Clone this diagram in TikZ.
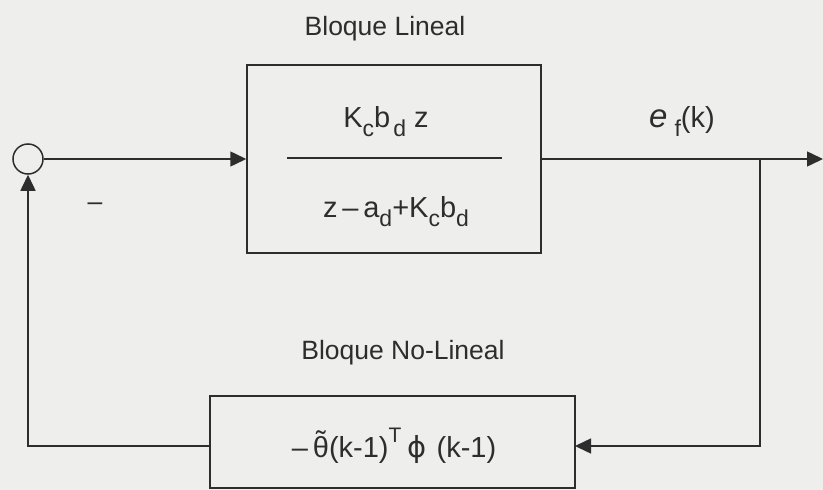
\documentclass[tikz,border=0pt]{standalone}
\usepackage{fontspec}
\setmainfont{Liberation Sans}
\newfontfamily\djv{DejaVu Sans}
\usetikzlibrary{arrows.meta}
\definecolor{ink}{RGB}{45,45,45}
\definecolor{paper}{RGB}{238,238,236}
\newcommand\sbs[1]{\raisebox{-0.32em}{\fontsize{23}{23}\selectfont #1}}
\newcommand\sps[1]{\raisebox{0.5em}{\fontsize{21}{21}\selectfont #1}}
\newcommand\tiltheta{\ooalign{θ\cr\hidewidth\raisebox{0.2em}{˜}\hidewidth\cr}}
\tikzset{
  blk/.style={draw=ink, line width=1.5pt, inner sep=0pt},
  txt/.style={text=ink, inner sep=0pt, font=\fontsize{26.5}{28}\selectfont},
  ftxt/.style={txt, font=\fontsize{29}{30}\selectfont},
  wire/.style={draw=ink, line width=1.5pt},
  arr/.style={wire, -{Triangle[length=16pt,width=15pt]}},
}
\begin{document}
\begin{tikzpicture}[x=1pt,y=-1pt]
\fill[paper] (0,0) rectangle (823,490);
\useasboundingbox (0,0) rectangle (823,490);
\clip (0,0) rectangle (823,490);
% nodes
\node[circle, draw=ink, line width=1.5pt, minimum size=30pt, inner sep=0pt] (sum) at (28,159) {};
\node[blk, minimum width=294pt, minimum height=188pt] (lin) at (394,159) {};
\node[blk, minimum width=365pt, minimum height=92pt] (nl) at (392.5,442) {};
% texts
\node[txt, anchor=base] (tlin) at (385,35) {Bloque Lineal};
\node[txt, anchor=base] (tnl) at (403,359) {Bloque No-Lineal};
\node[ftxt, anchor=base] (num) at (386,127) {K\sbs{c}b\hspace{3pt}\sbs{d}\hspace{8pt}z};
\node[ftxt, anchor=base] (den) at (396,217) {z\,–\,a\sbs{d}+K\sbs{c}b\sbs{d}};
\node[ftxt, anchor=base] (out) at (682,127) {{\fontsize{33}{33}\selectfont\itshape e}\hspace{7pt}\sbs{f}(k)};
\node[ftxt, anchor=base] (fb) at (394,457) {–\hspace{5pt}\tiltheta(k-1)\sps{T}\hspace{6pt}{\djv ϕ}\hspace{2pt} (k-1)};
\node[txt] (minus) at (95,207) {–};
% fraction bar
\coordinate (fl) at (287,158);
\coordinate (fr) at (502,158);
\draw[wire] (fl) -- (fr);
% connectors
\coordinate (outend) at (823,159);
\coordinate (branch) at (760,159);
\coordinate (nlin) at (575,446);
\coordinate (nlout) at (210,446);
\draw[arr] (sum.east) -- (lin.west);
\draw[arr] (lin.east) -- (outend);
\draw[arr] (branch) |- (nlin);
\draw[arr] (nlout) -| (sum.south);
\end{tikzpicture}
\end{document}
